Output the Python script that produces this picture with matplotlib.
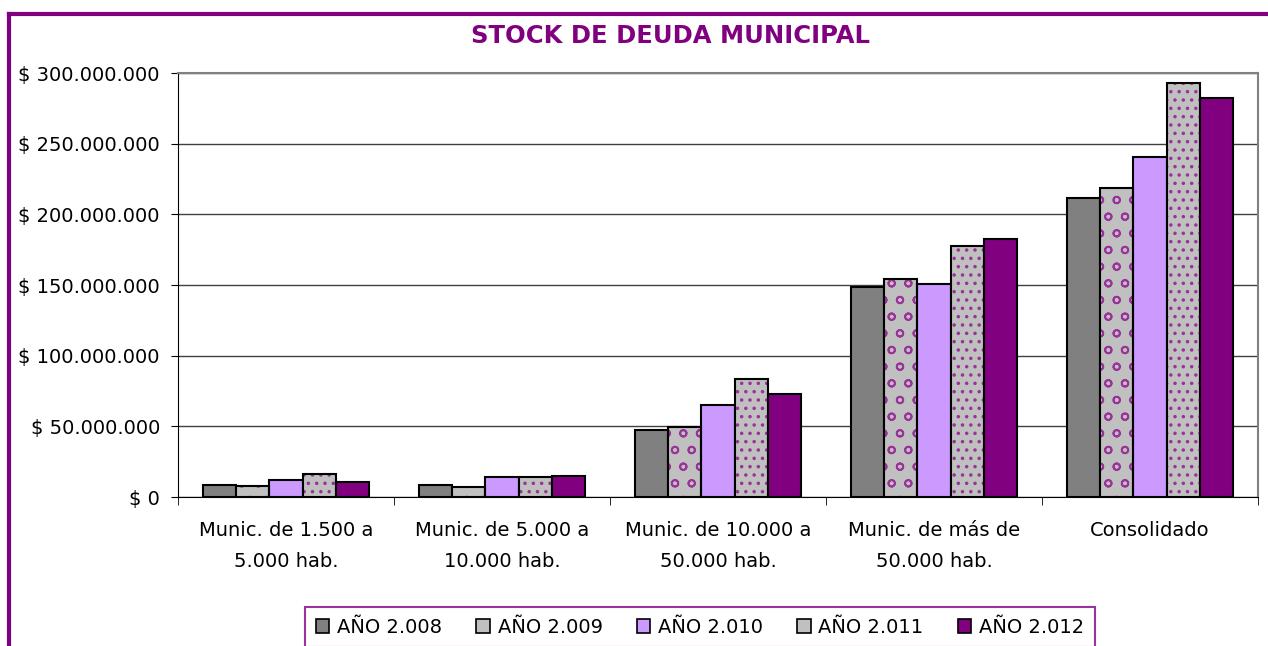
import matplotlib
matplotlib.use("Agg")
import matplotlib.pyplot as plt
import numpy as np
from matplotlib.lines import Line2D
from matplotlib.patches import Patch

categories = ["Munic. de 1.500 a\n5.000 hab.", "Munic. de 5.000 a\n10.000 hab.",
              "Munic. de 10.000 a\n50.000 hab.", "Munic. de más de\n50.000 hab.", "Consolidado"]
series_names = ["AÑO 2.008", "AÑO 2.009", "AÑO 2.010", "AÑO 2.011", "AÑO 2.012"]
v2008 = [8.5e6, 8.5e6, 47.4e6, 148.4e6, 211.8e6]
v2009 = [8.0e6, 7.0e6, 49.5e6, 154.0e6, 218.9e6]
v2010 = [11.8e6, 14.0e6, 65.0e6, 150.7e6, 240.9e6]
v2011 = [16.5e6, 14.0e6, 83.5e6, 177.8e6, 293.2e6]
v2012 = [10.4e6, 15.0e6, 73.0e6, 182.3e6, 282.2e6]
series = [v2008, v2009, v2010, v2011, v2012]
yticks = [0, 50e6, 100e6, 150e6, 200e6, 250e6, 300e6]

purple = "#800080"
faces = ["#808080", "#C0C0C0", "#CC99FF", "#C0C0C0", purple]
hatches = [None, "o", None, "..", None]

plt.rcParams['font.family'] = ['DejaVu Sans']
plt.rcParams['hatch.linewidth'] = 1.3

fig = plt.figure(figsize=(12.68, 6.46), dpi=100)
ax = fig.add_axes([178/1268, 1-497/646, (1258-178)/1268, (497-73)/646])

x = np.arange(len(categories))
w = 0.153
for i, (vals, fc, h) in enumerate(zip(series, faces, hatches)):
    pos = x + (i - 2) * w
    if h:
        ax.bar(pos, vals, w, color=fc, hatch=h, edgecolor="#993399", linewidth=0, zorder=3)
        ax.bar(pos, vals, w, fill=False, edgecolor="black", linewidth=1.5, zorder=4)
    else:
        ax.bar(pos, vals, w, color=fc, edgecolor="black", linewidth=1.5, zorder=3)

ax.set_xlim(-0.5, len(categories) - 0.5)
ax.set_ylim(0, 300e6)
ax.set_yticks(yticks)
ax.set_yticklabels(["$ 0" if v == 0 else "$ " + f"{int(v):,}".replace(",", ".") for v in yticks],
                   fontsize=14)
ax.yaxis.grid(True, color="#404040", linewidth=1, zorder=0)
ax.set_axisbelow(True)

ax.set_xticks(x)
ax.set_xticklabels(categories, fontsize=14, linespacing=1.85)
ax.tick_params(axis='x', length=0, pad=17)
ax.set_xticks(np.arange(len(categories) + 1) - 0.5, minor=True)
ax.tick_params(axis='x', which='minor', length=6, color="black")
ax.tick_params(axis='y', length=5, color="black", pad=8)

for s in ["top", "right"]:
    ax.spines[s].set_color("#808080")
    ax.spines[s].set_linewidth(1.5)
ax.spines["left"].set_color("black")
ax.spines["bottom"].set_color("black")

fig.text(670/1268, 1-36/646, "STOCK DE DEUDA MUNICIPAL", ha="center", va="center",
         fontsize=17.5, fontweight="bold", color=purple)

# outer purple frame
fig.add_artist(Line2D([9/1268, 1.0], [1-14/646, 1-14/646], transform=fig.transFigure,
                      color=purple, linewidth=3))
fig.add_artist(Line2D([9/1268, 9/1268], [0, 1-14/646], transform=fig.transFigure,
                      color=purple, linewidth=3))

handles = []
for fc, h in zip(faces, hatches):
    handles.append(Patch(facecolor=fc, edgecolor="black", linewidth=1.2))
leg = fig.legend(handles, series_names, loc="upper center", bbox_to_anchor=(700/1268, 1-607/646),
                 ncol=5, fontsize=14, frameon=True, fancybox=False, handlelength=0.7,
                 handleheight=0.7, handletextpad=0.4, columnspacing=1.75, borderpad=0.55,
                 borderaxespad=0)
leg.get_frame().set_edgecolor(purple)
leg.get_frame().set_linewidth(1.5)

fig.savefig("out.png", dpi=100)
